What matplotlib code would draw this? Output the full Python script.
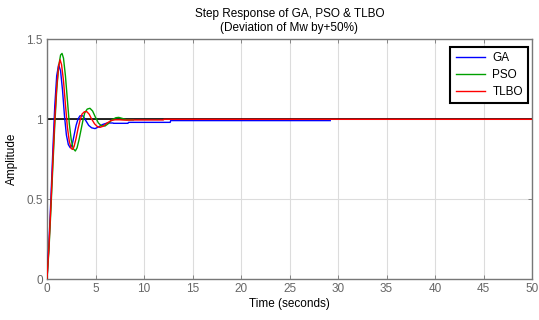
import matplotlib
matplotlib.use("Agg")
import matplotlib.pyplot as plt
from matplotlib import font_manager

# ---- data ----
ga_t = [0, 0.2, 0.4, 0.6, 0.8, 1.0, 1.2, 1.4, 1.6, 1.8, 2.0, 2.2, 2.4, 2.6, 2.8, 3.0,
        3.2, 3.4, 3.7, 4.0, 4.3, 4.6, 4.95, 5.3, 5.7, 6.2, 6.8, 6.85, 8.35, 8.4,
        12.7, 12.75, 29.2]
ga_a = [0, 0.22, 0.50, 0.80, 1.08, 1.27, 1.34, 1.30, 1.18, 1.02, 0.90, 0.84, 0.82,
        0.84, 0.90, 0.96, 1.00, 1.02, 1.02, 0.99, 0.96, 0.945, 0.94, 0.95, 0.965,
        0.975, 0.975, 0.973, 0.973, 0.979, 0.979, 0.99, 0.99]

pso_t = [0, 0.2, 0.4, 0.6, 0.8, 1.0, 1.2, 1.4, 1.55, 1.7, 1.9, 2.1, 2.3, 2.5, 2.7,
         2.92, 3.1, 3.3, 3.5, 3.7, 3.9, 4.15, 4.43, 4.7, 5.0, 5.3, 5.6, 5.98, 6.3,
         6.7, 7.1, 7.4, 7.8, 8.2, 8.9]
pso_a = [0, 0.18, 0.43, 0.70, 0.96, 1.18, 1.33, 1.40, 1.41, 1.38, 1.27, 1.12, 0.97,
         0.87, 0.815, 0.80, 0.82, 0.87, 0.93, 0.99, 1.04, 1.062, 1.067, 1.05, 1.01,
         0.975, 0.958, 0.956, 0.97, 0.995, 1.008, 1.01, 1.003, 0.995, 0.995]

tlbo_t = [0, 0.2, 0.4, 0.6, 0.8, 1.0, 1.2, 1.35, 1.5, 1.7, 1.9, 2.1, 2.3, 2.5, 2.65,
          2.8, 3.0, 3.2, 3.4, 3.6, 3.85, 4.1, 4.35, 4.6, 4.9, 5.2, 5.46, 5.8, 6.2,
          6.6, 7.0, 7.5, 8.0, 9.0, 12.0, 12.05, 50]
tlbo_a = [0, 0.20, 0.46, 0.74, 1.00, 1.20, 1.33, 1.37, 1.34, 1.24, 1.09, 0.95, 0.86,
          0.815, 0.81, 0.83, 0.88, 0.94, 0.99, 1.03, 1.045, 1.046, 1.03, 1.0, 0.97,
          0.952, 0.948, 0.955, 0.975, 0.99, 0.995, 0.995, 0.993, 0.994, 0.994,
          0.998, 0.998]

ref_t = [0, 50]
ref_a = [1, 1]

x_ticks = [0, 5, 10, 15, 20, 25, 30, 35, 40, 45, 50]
y_ticks = [0, 0.5, 1, 1.5]
y_tick_labels = ["0", "0.5", "1", "1.5"]
series_names = ["GA", "PSO", "TLBO"]

names = {f.name for f in font_manager.fontManager.ttflist}
fam = "Liberation Sans Narrow" if "Liberation Sans Narrow" in names else "Liberation Sans"
plt.rcParams["font.family"] = [fam, "DejaVu Sans"]

fig = plt.figure(figsize=(5.39, 3.2), dpi=100)
ax = fig.add_axes([47 / 539, 1 - 279 / 320, 485 / 539, 240 / 320])

ax.plot(ref_t, ref_a, color="black", lw=1.2, zorder=2)
l1, = ax.plot(ga_t, ga_a, color="#0000ff", lw=1.0, zorder=3)
l2, = ax.plot(pso_t, pso_a, color="#00a000", lw=1.0, zorder=3)
l3, = ax.plot(tlbo_t, tlbo_a, color="#ff0000", lw=1.0, zorder=3)

ax.set_xlim(0, 50)
ax.set_ylim(0, 1.5)
ax.set_xticks(x_ticks)
ax.set_yticks(y_ticks)
ax.set_yticklabels(y_tick_labels)
ax.grid(True, color="#dcdcdc", lw=0.8)
ax.set_axisbelow(True)

for s in ax.spines.values():
    s.set_color("#777777")
    s.set_linewidth(1.0)
ax.tick_params(direction="in", top=True, right=True, length=3, width=0.6,
               color="#777777", labelcolor="#666666", labelsize=8.5, pad=3)

ax.set_xlabel("Time (seconds)", fontsize=8.5, labelpad=2)
ax.set_ylabel("Amplitude", fontsize=8.5, labelpad=6)
ax.set_title("Step Response of GA, PSO & TLBO\n(Deviation of Mw by+50%)",
             fontsize=8.5, pad=6, linespacing=1.15)

leg = ax.legend([l1, l2, l3], series_names, loc="upper right",
                bbox_to_anchor=(0.992, 0.967), borderaxespad=0, fontsize=8.5,
                fancybox=False, framealpha=1, edgecolor="black",
                handlelength=2.5, borderpad=0.45, labelspacing=0.42,
                handletextpad=0.6)
leg.get_frame().set_linewidth(1.5)

fig.savefig("out.png", dpi=100)
